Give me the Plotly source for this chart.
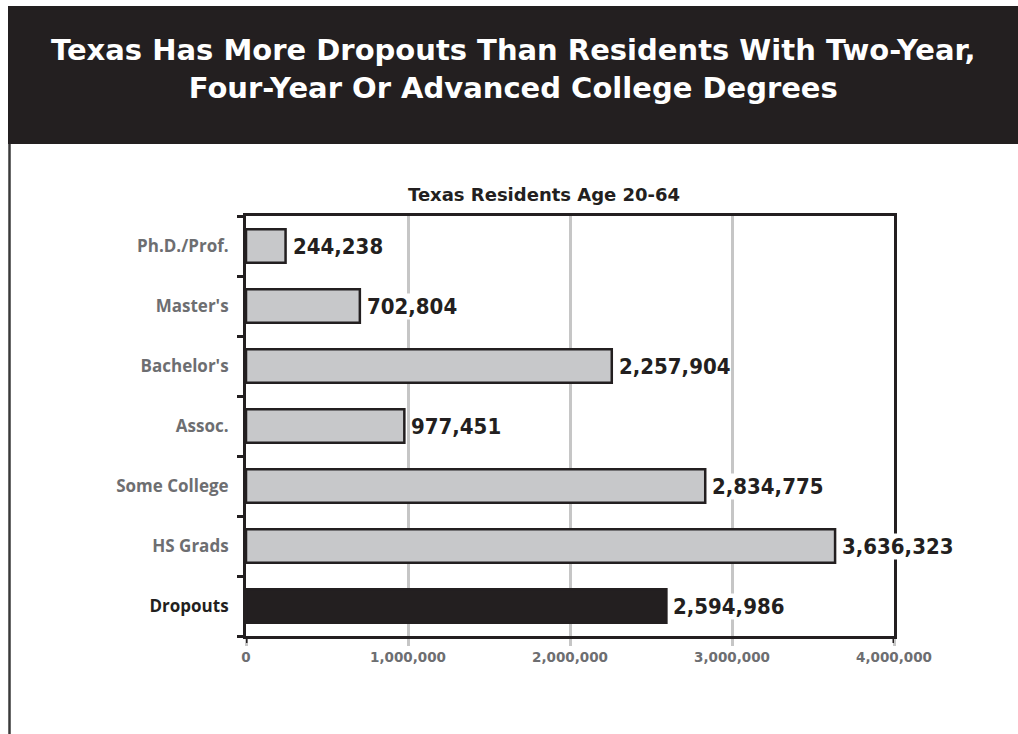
import plotly.graph_objects as go

categories = ["Ph.D./Prof.", "Master's", "Bachelor's", "Assoc.", "Some College", "HS Grads", "Dropouts"]
values = [244238, 702804, 2257904, 977451, 2834775, 3636323, 2594986]
x_ticks = [0, 1000000, 2000000, 3000000, 4000000]
x_tick_labels = ["0", "1,000,000", "2,000,000", "3,000,000", "4,000,000"]

DARK = "#231f20"
GRAY_BAR = "#c7c8ca"
GRID = "#c6c6c6"
LABEL_GRAY = "#6d6e71"

W, H = 1018, 734
L, R, T, B = 246, 124, 216, 98
pw, ph = W - L - R, H - T - B

def px_x(p):
    return (p - L) / pw

def px_y(p):
    return (H - B - p) / ph

fill = [DARK if c == "Dropouts" else GRAY_BAR for c in categories]

fig = go.Figure()
fig.add_trace(go.Bar(
    x=values, y=categories, orientation="h",
    marker=dict(color=fill, line=dict(color=DARK, width=2.5)),
    width=0.56, hoverinfo="skip",
))

# value labels with white background (they break grid / frame lines)
for c, v in zip(categories, values):
    fig.add_annotation(
        x=v, y=c, xref="x", yref="y", text=f"{v:,}",
        showarrow=False, xanchor="left", xshift=6,
        bgcolor="white", borderpad=0,
        font=dict(family="DejaVu Sans Condensed", size=22, color=DARK, weight="bold"),
    )

ticktext = [f"<span style='color:{DARK}'>{c}</span>" if c == "Dropouts" else c for c in categories]

fig.update_layout(
    width=W, height=H,
    margin=dict(l=L, r=R, t=T, b=B),
    paper_bgcolor="white", plot_bgcolor="white",
    showlegend=False,
    xaxis=dict(
        range=[x_ticks[0], x_ticks[-1]],
        tickvals=x_ticks, ticktext=x_tick_labels,
        showgrid=True, gridcolor=GRID, gridwidth=3,
        zeroline=False,
        showline=True, linecolor=DARK, linewidth=3, mirror=True,
        ticks="outside", ticklen=7, tickwidth=3, tickcolor=GRID,
        tickfont=dict(family="DejaVu Sans", size=13.5, color=LABEL_GRAY, weight="bold"),
    ),
    yaxis=dict(
        type="category", autorange="reversed",
        tickvals=categories, ticktext=ticktext,
        tickson="boundaries",
        showgrid=False, zeroline=False,
        showline=True, linecolor=DARK, linewidth=3, mirror=True,
        ticks="outside", ticklen=6, tickwidth=3, tickcolor=DARK,
        ticklabelstandoff=11,
        tickfont=dict(family="Open Sans", size=17, color=LABEL_GRAY, weight="bold"),
    ),
    shapes=[
        # header band
        dict(type="rect", xref="paper", yref="paper",
             x0=px_x(8), x1=px_x(W), y0=px_y(144), y1=px_y(6),
             fillcolor=DARK, line=dict(width=0), layer="below"),
        # left page border line
        dict(type="line", xref="paper", yref="paper",
             x0=px_x(9.5), x1=px_x(9.5), y0=px_y(144), y1=px_y(H),
             line=dict(color="#3a3a3a", width=2.5)),
        # dark tick extensions at axis ends
        dict(type="line", xref="x", yref="paper", x0=x_ticks[0], x1=x_ticks[0],
             y0=-7 / ph, y1=0, line=dict(color=DARK, width=3)),
        dict(type="line", xref="x", yref="paper", x0=x_ticks[-1], x1=x_ticks[-1],
             y0=-7 / ph, y1=0, line=dict(color=DARK, width=3)),
    ],
    annotations=list(fig.layout.annotations) + [
        dict(xref="paper", yref="paper", x=px_x(513), y=px_y(69),
             text="Texas Has More Dropouts Than Residents With Two-Year,<br>Four-Year Or Advanced College Degrees",
             showarrow=False, xanchor="center", yanchor="middle",
             font=dict(family="DejaVu Sans", size=29, color="white", weight="bold")),
        dict(xref="paper", yref="paper", x=px_x(544), y=px_y(194),
             text="Texas Residents Age 20-64",
             showarrow=False, xanchor="center", yanchor="middle",
             font=dict(family="DejaVu Sans", size=18, color=DARK, weight="bold")),
    ],
)

fig.write_html("out.html")
